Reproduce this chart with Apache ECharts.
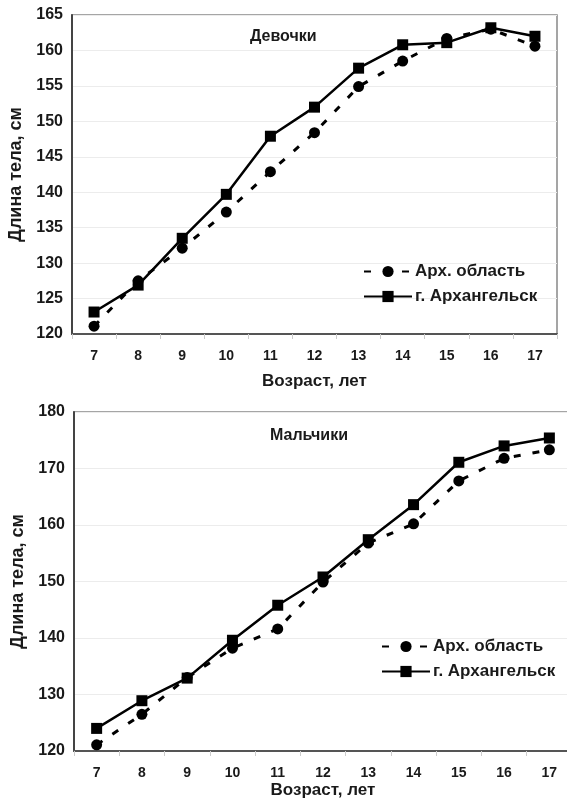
<!DOCTYPE html>
<html>
<head>
<meta charset="utf-8">
<script src="https://cdn.jsdelivr.net/npm/echarts@6/dist/echarts.min.js"></script>
<style>
  html, body { margin: 0; padding: 0; background: #fff; }
  #chart { width: 567px; height: 803px; }
</style>
</head>
<body>
<div id="chart"></div>
<script>
// Ages (years) along the horizontal axis
const ages = ['7', '8', '9', '10', '11', '12', '13', '14', '15', '16', '17'];

// Body length, cm — girls
const girlsRegion = [121.1, 127.5, 132.1, 137.2, 142.9, 148.4, 154.9, 158.5, 161.7, 163.0, 160.6];
const girlsCity   = [123.1, 126.9, 133.5, 139.7, 147.9, 152.0, 157.5, 160.8, 161.1, 163.2, 162.0];

// Body length, cm — boys
const boysRegion = [121.1, 126.5, 133.0, 138.2, 141.6, 149.9, 156.8, 160.2, 167.8, 171.8, 173.3];
const boysCity   = [124.0, 128.9, 132.9, 139.6, 145.8, 150.8, 157.4, 163.6, 171.1, 174.0, 175.4];

const regionName = 'Арх. область';
const cityName = 'г. Архангельск';

const FONT = "'Liberation Sans', Arial, sans-serif";
const TXT = '#1a1a1a';

function xAxisFor(gridIndex, gap) {
  return {
    type: 'category',
    gridIndex: gridIndex,
    data: ages,
    boundaryGap: true,
    name: 'Возраст, лет',
    nameLocation: 'middle',
    nameGap: gap,
    nameTextStyle: { fontFamily: FONT, fontWeight: 'bold', fontSize: 17, color: TXT },
    axisLine: { lineStyle: { color: '#555', width: 2 } },
    axisTick: { show: true, length: 5, lineStyle: { color: '#ccc' } },
    axisLabel: { fontFamily: FONT, fontWeight: 'bold', fontSize: 14, color: TXT, margin: 15 },
    splitLine: { show: false }
  };
}

function yAxisFor(gridIndex, min, max, interval) {
  return {
    type: 'value',
    gridIndex: gridIndex,
    min: min,
    max: max,
    interval: interval,
    name: 'Длина тела, см',
    nameLocation: 'middle',
    nameGap: 45,
    nameTextStyle: { fontFamily: FONT, fontWeight: 'bold', fontSize: 18, color: TXT },
    axisLine: { show: true, lineStyle: { color: '#444', width: 2 } },
    axisTick: { show: false },
    axisLabel: { fontFamily: FONT, fontWeight: 'bold', fontSize: 16, color: TXT, margin: 9 },
    splitLine: { show: true, lineStyle: { color: '#ececec', width: 1 } }
  };
}

function regionSeries(idx, values) {
  return {
    name: regionName,
    type: 'line',
    xAxisIndex: idx,
    yAxisIndex: idx,
    data: values,
    symbol: 'circle',
    symbolSize: 11,
    itemStyle: { color: '#000' },
    lineStyle: { color: '#000', width: 3, type: [7, 12] },
    emphasis: { disabled: true },
    z: 3
  };
}

function citySeries(idx, values) {
  return {
    name: cityName,
    type: 'line',
    xAxisIndex: idx,
    yAxisIndex: idx,
    data: values,
    symbol: 'rect',
    symbolSize: 11,
    itemStyle: { color: '#000' },
    lineStyle: { color: '#000', width: 2.5, type: 'solid' },
    emphasis: { disabled: true },
    z: 4
  };
}

function legendAt(left, top) {
  return {
    orient: 'vertical',
    left: left,
    top: top,
    itemWidth: 48,
    itemHeight: 14,
    itemGap: 8,
    data: [regionName, cityName],
    textStyle: { fontFamily: FONT, fontWeight: 'bold', fontSize: 17, color: TXT, padding: [0, 0, 0, -2] }
  };
}

const chart = echarts.init(document.getElementById('chart'), null, { renderer: 'canvas' });

chart.setOption({
  animation: false,
  backgroundColor: '#fff',
  title: [
    { text: 'Девочки', left: 245, top: 24,
      textStyle: { fontFamily: FONT, fontWeight: 'bold', fontSize: 16, color: TXT } },
    { text: 'Мальчики', left: 265, top: 423,
      textStyle: { fontFamily: FONT, fontWeight: 'bold', fontSize: 16, color: TXT } }
  ],
  legend: [legendAt(358, 258), legendAt(376, 633)],
  grid: [
    { left: 72, top: 15, width: 485, height: 319, outerBoundsMode: 'none',
      show: true, borderColor: '#888', borderWidth: 1.5, backgroundColor: 'transparent' },
    { left: 74, top: 412, width: 498, height: 339, outerBoundsMode: 'none',
      show: true, borderColor: '#888', borderWidth: 1.5, backgroundColor: 'transparent' }
  ],
  xAxis: [xAxisFor(0, 39), xAxisFor(1, 31)],
  yAxis: [yAxisFor(0, 120, 165, 5), yAxisFor(1, 120, 180, 10)],
  series: [
    regionSeries(0, girlsRegion),
    citySeries(0, girlsCity),
    regionSeries(1, boysRegion),
    citySeries(1, boysCity)
  ]
});
</script>
</body>
</html>
